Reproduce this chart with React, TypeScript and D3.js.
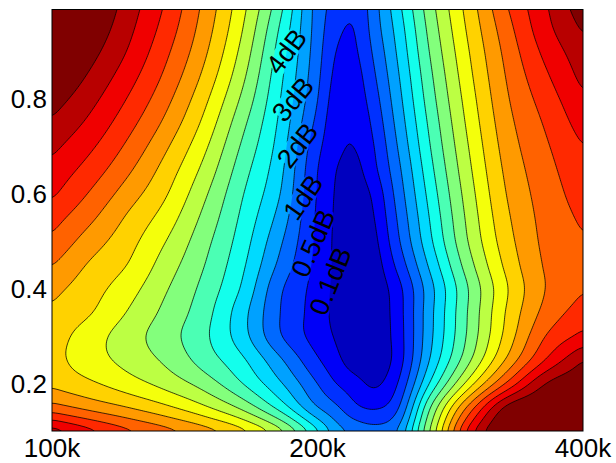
import React, { useMemo } from "react";
import * as d3 from "d3";

// frequency of the sampled columns (Hz)
const freqs = [100e3, 110.4e3, 121.9e3, 134.6e3, 148.6e3, 164.1e3, 181.1e3, 200e3, 209.9e3, 220.8e3, 231.8e3, 243.8e3, 269.2e3, 297.3e3, 328.1e3, 362.3e3, 400e3];
// second parameter of the sampled rows, bottom to top
const params = [0.1, 0.15, 0.2, 0.25, 0.3, 0.35, 0.4, 0.45, 0.5, 0.55, 0.6, 0.65, 0.7, 0.75, 0.8, 0.85, 0.9, 0.95, 1.0];
// loss in dB, one row per param, one column per freq
const lossDb = [
  [14.6, 13.4, 12.3, 11.43, 10.55, 9.41, 7.46, 4.22, 2.54, 1.8, 1.45, 1.8, 7.33, 13.5, 16.5, 17.0, 17.5],
  [11.4, 10.66, 9.98, 9.19, 8.17, 6.75, 4.63, 2.0, 1.18, 0.585, 0.44, 0.71, 6.14, 11.38, 15.3, 16.2, 16.8],
  [9.8, 9.17, 8.44, 7.63, 6.59, 5.04, 3.17, 1.0, 0.5, 0.26, 0.08, 0.348, 4.25, 8.5, 12.17, 15.0, 16.0],
  [9.35, 8.45, 7.67, 6.81, 5.57, 4.21, 2.2, 0.555, 0.22, 0.039, 0.025, 0.14, 3.2, 6.82, 10.17, 13.0, 15.0],
  [9.5, 8.47, 7.47, 6.43, 5.23, 3.44, 1.11, 0.316, 0.09, 0.01, 0.025, 0.156, 2.86, 6.28, 9.39, 12.0, 13.3],
  [9.85, 9.08, 7.94, 6.73, 5.43, 3.41, 1.03, 0.3, 0.07, 0.01, 0.025, 0.18, 2.8, 6.17, 9.14, 11.31, 12.5],
  [10.3, 9.43, 8.42, 7.09, 5.71, 3.89, 1.19, 0.328, 0.075, 0.01, 0.03, 0.22, 2.73, 6.08, 8.93, 11.0, 11.95],
  [11.05, 9.87, 8.97, 7.52, 6.04, 4.23, 1.77, 0.372, 0.08, 0.01, 0.045, 0.46, 3.32, 6.63, 9.29, 11.1, 11.7],
  [11.8, 10.51, 9.37, 8.0, 6.36, 4.53, 2.2, 0.406, 0.08, 0.02, 0.07, 0.7, 3.89, 7.11, 9.6, 11.23, 11.93],
  [12.43, 11.22, 9.85, 8.54, 6.76, 4.81, 2.65, 0.43, 0.085, 0.03, 0.095, 0.845, 4.18, 7.34, 9.83, 11.33, 12.17],
  [13.17, 11.9, 10.5, 9.09, 7.21, 5.1, 3.06, 0.466, 0.09, 0.045, 0.185, 0.99, 4.47, 7.57, 10.05, 11.46, 12.45],
  [13.7, 12.56, 11.17, 9.58, 7.72, 5.46, 3.33, 0.5, 0.1, 0.07, 0.392, 1.31, 4.78, 7.82, 10.25, 11.63, 12.7],
  [14.25, 13.18, 11.79, 10.15, 8.24, 5.87, 3.59, 0.635, 0.196, 0.1, 0.488, 1.63, 5.08, 8.06, 10.46, 11.84, 13.0],
  [14.86, 13.77, 12.38, 10.76, 8.78, 6.32, 3.83, 0.84, 0.216, 0.172, 0.625, 1.93, 5.35, 8.3, 10.67, 12.1, 13.45],
  [15.49, 14.32, 12.93, 11.3, 9.29, 6.83, 4.07, 1.03, 0.288, 0.264, 0.78, 2.21, 5.63, 8.53, 10.89, 12.43, 13.87],
  [16.17, 14.86, 13.45, 11.79, 9.8, 7.31, 4.31, 1.25, 0.384, 0.344, 0.935, 2.48, 5.89, 8.77, 11.1, 12.82, 14.3],
  [16.85, 15.39, 13.93, 12.21, 10.23, 7.72, 4.59, 1.41, 0.48, 0.44, 1.17, 2.75, 6.17, 9.0, 11.33, 13.24, 14.65],
  [17.45, 15.87, 14.29, 12.59, 10.56, 8.09, 4.94, 1.53, 0.625, 0.5, 1.46, 3.01, 6.44, 9.25, 11.63, 13.65, 15.15],
  [17.5, 16.24, 14.57, 12.9, 10.81, 8.39, 5.4, 1.59, 0.79, 0.6, 1.6, 3.3, 6.72, 9.49, 12.0, 13.88, 15.7],
];
const levels = [0.1, 0.5, 1, 2, 3, 4, 5, 6, 7, 8, 9, 10, 11, 12, 13, 14, 15];
// inline labels: level, and roughly where it sits
const labelLevels = [4, 3, 2, 1, 0.5, 0.1];
const labelParam = [0.901, 0.8, 0.702, 0.595, 0.495, 0.415];
const labelFreq = [188.6e3, 189e3, 190e3, 193e3, 200e3, 209e3];
const xTicks = [100e3, 200e3, 400e3];
const xTickLabels = ["100k", "200k", "400k"];
const yTicks = [0.2, 0.4, 0.6, 0.8];

const labelAngle = [-53, -50, -52, -55, -66, -68];
const FONT = "'Liberation Sans', Arial, Helvetica, sans-serif";

function jet(t: number) {
  const c = (v: number) => Math.max(0, Math.min(1, v)) * 255;
  const r = c(Math.min(4 * t - 1.5, -4 * t + 4.5));
  const g = c(Math.min(4 * t - 0.5, -4 * t + 3.5));
  const b = c(Math.min(4 * t + 0.5, -4 * t + 2.5));
  return d3.rgb(r, g, b).formatHex();
}

// piecewise cubic through non-uniform knots, parabolic (Bessel) slopes
function cubic(xs: number[], ys: number[]) {
  const n = xs.length;
  const h: number[] = [];
  const s: number[] = [];
  for (let i = 0; i < n - 1; i++) {
    h.push(xs[i + 1] - xs[i]);
    s.push((ys[i + 1] - ys[i]) / h[i]);
  }
  const m: number[] = new Array(n);
  m[0] = s[0];
  m[n - 1] = s[n - 2];
  for (let i = 1; i < n - 1; i++) {
    m[i] = (s[i - 1] * h[i] + s[i] * h[i - 1]) / (h[i - 1] + h[i]);
  }
  return (t: number) => {
    const i = Math.max(0, Math.min(n - 2, d3.bisectRight(xs, t) - 1));
    const d = t - xs[i];
    const a = (m[i] + m[i + 1] - 2 * s[i]) / (h[i] * h[i]);
    const b = (3 * s[i] - 2 * m[i] - m[i + 1]) / h[i];
    return ys[i] + d * (m[i] + d * (b + d * a));
  };
}

export default function App() {
  const W = 616;
  const H = 463;
  const left = 52, right = 583, top = 9.5, bottom = 431;

  const chart = useMemo(() => {
    const x = d3.scaleLog().domain([1e5, 4e5]).range([left, right]);
    const y = d3.scaleLinear().domain([0.1, 0.99]).range([bottom, top]);
    // dB -> contour index (0 = first level), so the field is interpolated evenly between lines
    const toIndex = d3.scaleLinear().domain([0, ...levels]).range(d3.range(-1, levels.length));
    const jetT = d3.scaleLinear().domain([0, levels.length]).range([0.0625, 1]);
    const bandColor = (k: number) => jet(jetT(k));

    const nx = 267;
    const step = (right - left) / (nx - 1);
    const ny = Math.ceil((bottom - y(1.0)) / step) + 1;
    const y0 = bottom - (ny - 1) * step;

    const logF = freqs.map((f) => Math.log10(f));
    const fineU = d3.range(nx).map((i) => Math.log10(x.invert(left + i * step)));
    const rowsFine = lossDb.map((row) => {
      const f = cubic(logF, row.map((v) => toIndex(v)));
      return fineU.map(f);
    });
    const fineV = d3.range(ny).map((j) => y.invert(y0 + j * step));
    const values: number[] = new Array(nx * ny);
    for (let i = 0; i < nx; i++) {
      const f = cubic(params, rowsFine.map((r) => r[i]));
      for (let j = 0; j < ny; j++) values[j * nx + i] = f(fineV[j]);
    }
    d3.blur2({ data: values, width: nx, height: ny }, 1.5);

    const contours = d3.contours().size([nx, ny]).thresholds(d3.range(levels.length))(values);
    const path = d3.geoPath(
      d3.geoTransform({
        point: function (cx: number, cy: number) {
          this.stream.point(left + (cx - 0.5) * step, y0 + (cy - 0.5) * step);
        },
      })
    );

    const labels = labelLevels.map((lv, k) => {
      const py = y(labelParam[k]);
      const j = Math.round((py - y0) / step);
      const t = toIndex(lv);
      const target = x(labelFreq[k]);
      let best = target;
      let bestD = Infinity;
      for (let i = 0; i < nx - 1; i++) {
        const a = values[j * nx + i] - t;
        const b = values[j * nx + i + 1] - t;
        if (a === b || a * b > 0) continue;
        const cx = left + (i + a / (a - b)) * step;
        if (Math.abs(cx - target) < bestD) {
          bestD = Math.abs(cx - target);
          best = cx;
        }
      }
      return { text: `${lv}dB`, x: best, y: y0 + j * step, angle: labelAngle[k] };
    });

    return {
      x,
      y,
      base: bandColor(0),
      bands: contours.map((c) => ({ d: path(c) || "", fill: bandColor(c.value + 1) })),
      labels,
    };
  }, []);

  const labelSize = 27;

  return (
    <svg
      width={W}
      height={H}
      style={{ position: "absolute", left: 0, top: 0, background: "#fff" }}
      fontFamily={FONT}
    >
      <defs>
        <clipPath id="plotArea">
          <rect x={left} y={top} width={right - left} height={bottom - top} />
        </clipPath>
        <mask id="labelGaps" maskUnits="userSpaceOnUse" x={0} y={0} width={W} height={H}>
          <rect width={W} height={H} fill="white" />
          {chart.labels.map((l, i) => {
            const w = l.text.length * labelSize * 0.54;
            const h = labelSize * 0.8;
            return (
              <rect
                key={i}
                x={-w / 2}
                y={-h / 2}
                width={w}
                height={h}
                fill="black"
                transform={`translate(${l.x},${l.y}) rotate(${l.angle})`}
              />
            );
          })}
        </mask>
      </defs>

      <g clipPath="url(#plotArea)">
        <rect x={left} y={top} width={right - left} height={bottom - top} fill={chart.base} />
        {chart.bands.map((b, i) => (
          <path key={i} d={b.d} fill={b.fill} stroke="none" />
        ))}
        <g mask="url(#labelGaps)">
          {chart.bands.map((b, i) => (
            <path key={i} d={b.d} fill="none" stroke="#000" strokeWidth={0.75} />
          ))}
        </g>
      </g>

      {chart.labels.map((l, i) => (
        <text
          key={i}
          transform={`translate(${l.x},${l.y}) rotate(${l.angle})`}
          textAnchor="middle"
          dominantBaseline="central"
          fontSize={labelSize}
          fill="#000"
        >
          {l.text}
        </text>
      ))}

      <rect
        x={left}
        y={top}
        width={right - left}
        height={bottom - top}
        fill="none"
        stroke="#000"
        strokeWidth={1}
      />

      {yTicks.map((t) => (
        <text
          key={t}
          x={left - 5}
          y={chart.y(t)}
          textAnchor="end"
          dominantBaseline="central"
          fontSize={26}
          fill="#000"
        >
          {t.toFixed(1)}
        </text>
      ))}
      {xTicks.map((t, i) => (
        <text key={t} x={chart.x(t)} y={457} textAnchor="middle" fontSize={26} fill="#000">
          {xTickLabels[i]}
        </text>
      ))}
    </svg>
  );
}
